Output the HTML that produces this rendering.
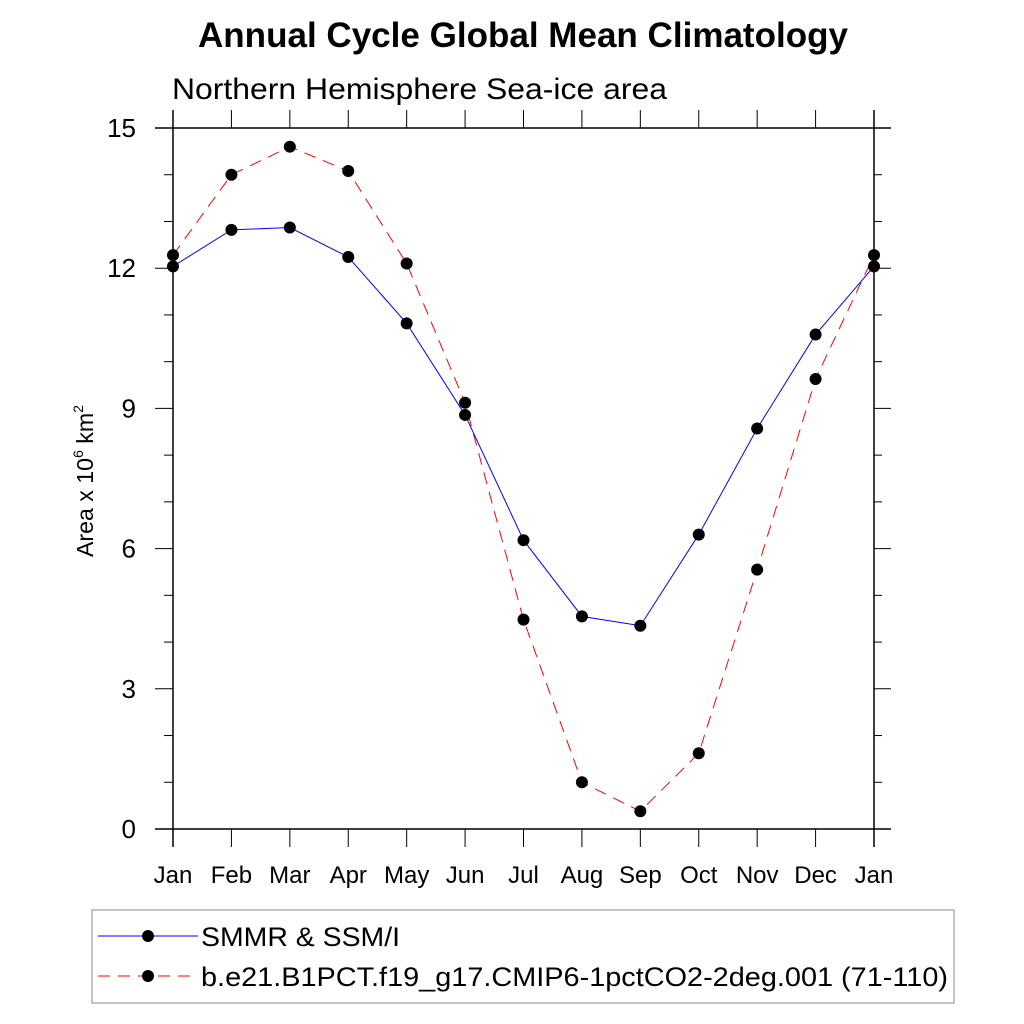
<!DOCTYPE html>
<html><head><meta charset="utf-8"><style>
body{margin:0;background:#fff}
svg{display:block;font-family:"Liberation Sans",sans-serif}
</style></head><body>
<svg id="c" width="1024" height="1024" viewBox="0 0 1024 1024">
<text x="198" y="47" font-size="35" font-weight="bold" textLength="650" lengthAdjust="spacingAndGlyphs">Annual Cycle Global Mean Climatology</text>
<text x="172" y="99" font-size="30" textLength="495" lengthAdjust="spacingAndGlyphs">Northern Hemisphere Sea-ice area</text>
<text transform="translate(93,557) rotate(-90)" font-size="23" textLength="152" lengthAdjust="spacingAndGlyphs">Area x 10<tspan font-size="14" dy="-10">6</tspan><tspan dy="10"> km</tspan><tspan font-size="14" dy="-10">2</tspan></text>
<g id="axes"></g>
<g id="series"></g>
<rect x="92" y="910" width="862" height="93" fill="none" stroke="#888" stroke-width="1"/>
<line x1="98" y1="936" x2="198" y2="936" stroke="#00f" stroke-width="1"/>
<circle cx="148" cy="936" r="6" fill="#000"/>
<text x="201" y="946" font-size="27" textLength="199" lengthAdjust="spacingAndGlyphs">SMMR &amp; SSM/I</text>
<line x1="98" y1="976" x2="198" y2="976" stroke="#f00" stroke-width="1" stroke-dasharray="12,8"/>
<circle cx="148" cy="976" r="6" fill="#000"/>
<text x="201" y="986" font-size="27" textLength="747" lengthAdjust="spacingAndGlyphs">b.e21.B1PCT.f19_g17.CMIP6-1pctCO2-2deg.001 (71-110)</text>
</svg>
<script>
const months=["Jan","Feb","Mar","Apr","May","Jun","Jul","Aug","Sep","Oct","Nov","Dec","Jan"];
const obsValues=[12.04,12.82,12.87,12.24,10.82,8.86,6.18,4.55,4.35,6.30,8.57,10.58,12.04];
const modelValues=[12.28,14.00,14.60,14.08,12.10,9.12,4.48,1.00,0.38,1.62,5.55,9.63,12.28];
const yTicks=[0,3,6,9,12,15];
const NS="http://www.w3.org/2000/svg";
const L=173,R=874,T=128,B=829,yMax=15;
function xs(i){return L+(R-L)*i/12;}
function ys(v){return B-(B-T)*v/yMax;}
function mk(tag,attrs,parent){const e=document.createElementNS(NS,tag);for(const k in attrs)e.setAttribute(k,attrs[k]);parent.appendChild(e);return e;}
const ax=document.getElementById('axes');
let e;
e=mk('line',{x1:155,y1:T,x2:891,y2:T,stroke:'#000','stroke-width':1.5},ax);


e=mk('line',{x1:155,y1:B,x2:891,y2:B,stroke:'#000','stroke-width':1.5},ax);


e=mk('line',{x1:L,y1:110,x2:L,y2:847,stroke:'#000','stroke-width':1.5},ax);


e=mk('line',{x1:R,y1:110,x2:R,y2:847,stroke:'#000','stroke-width':1.5},ax);


months.forEach((m,i)=>{
  const x=xs(i);
  e=mk('line',{x1:x,y1:B,x2:x,y2:847,stroke:'#000'},ax);
  
  
  e=mk('line',{x1:x,y1:110,x2:x,y2:T,stroke:'#000'},ax);
  
  
  e=mk('text',{x:x,y:883,'text-anchor':'middle','font-size':24},ax);
  e.textContent=m;
  
  
});
for(let v=0;v<=yMax;v+=1){
  const y=ys(v),major=v%3===0;
  e=mk('line',{x1:major?155:164,y1:y,x2:L,y2:y,stroke:'#000'},ax);
  
  
  e=mk('line',{x1:R,y1:y,x2:major?891:882,y2:y,stroke:'#000'},ax);
  
  
}
yTicks.forEach(v=>{
  e=mk('text',{x:136,y:ys(v)+9,'text-anchor':'end','font-size':26},ax);
  e.textContent=v;
  
  
});
const sg=document.getElementById('series');
function drawSeries(vals,color,dash,name){
  const pts=vals.map((v,i)=>xs(i)+','+ys(v)).join(' ');
  const a={points:pts,fill:'none',stroke:color,'stroke-width':1};
  if(dash)a['stroke-dasharray']=dash;
  e=mk('polyline',a,sg);
  
  
  vals.forEach((v,i)=>{
    e=mk('circle',{cx:xs(i),cy:ys(v),r:6,fill:'#000'},sg);
    
    
  });
}
drawSeries(modelValues,'#f00','12,8','model');
drawSeries(obsValues,'#00f',null,'obs');
</script>
</body></html>
